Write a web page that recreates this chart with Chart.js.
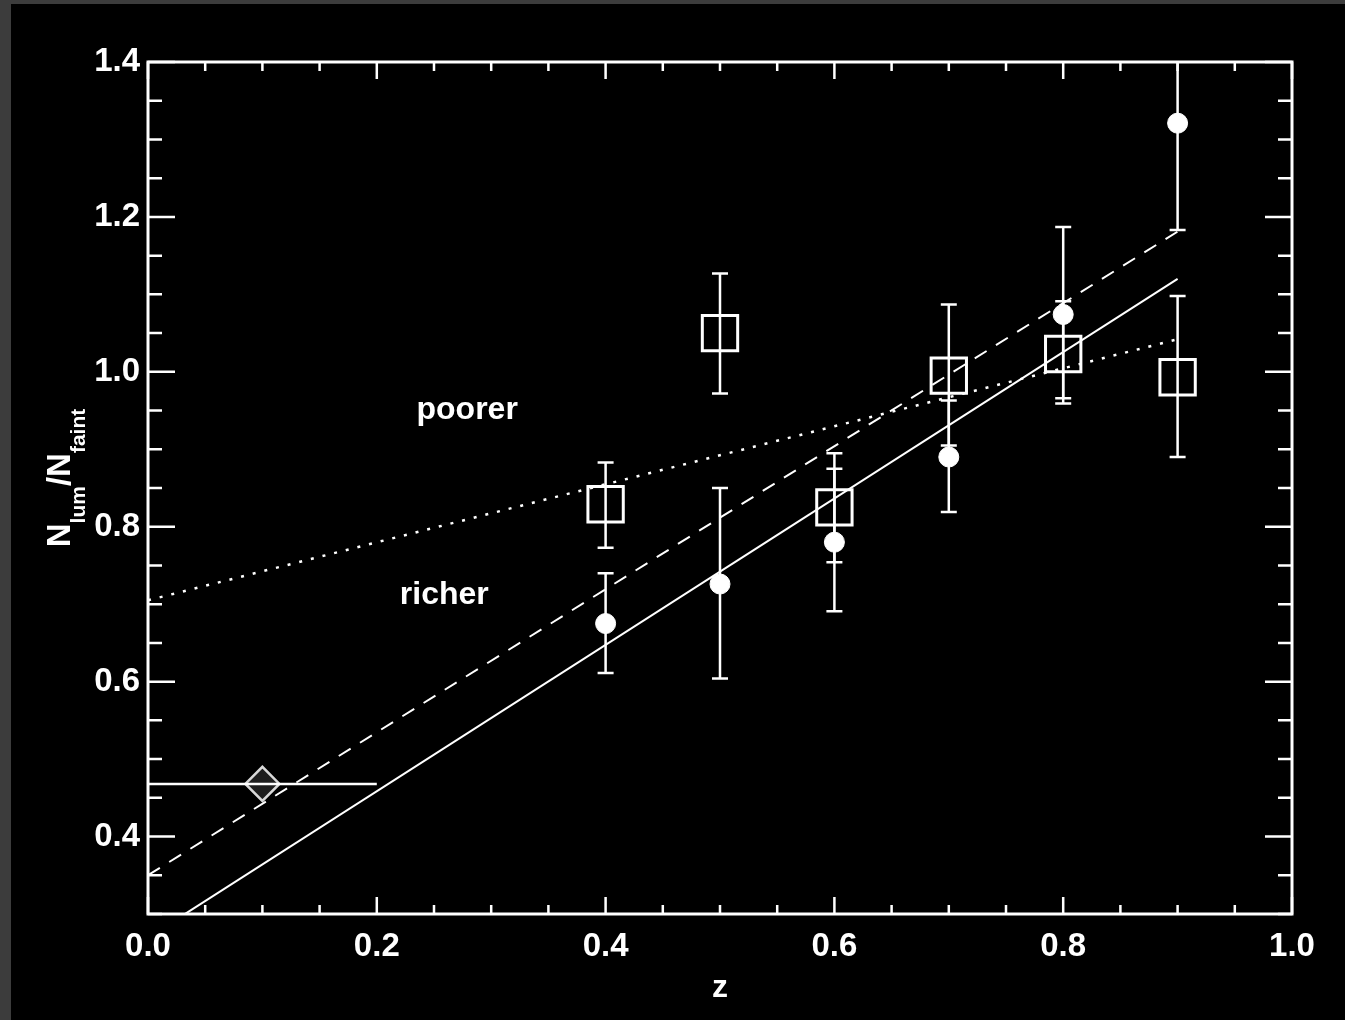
<!DOCTYPE html>
<html>
<head>
<meta charset="utf-8">
<script src="https://cdn.jsdelivr.net/npm/chart.js@4.4.0/dist/chart.umd.min.js"></script>
<style>
  html,body{margin:0;padding:0;background:#3c3c3c;width:1345px;height:1020px;overflow:hidden}
  #wrap{position:absolute;left:11px;top:4px;width:1334px;height:1016px;background:#000}
</style>
</head>
<body>
<div id="wrap"><canvas id="c"></canvas></div>
<script>
// --- data ---
var xTicks = [0.0, 0.2, 0.4, 0.6, 0.8, 1.0];
var yTicks = [0.4, 0.6, 0.8, 1.0, 1.2, 1.4];

var circZ  = [0.4, 0.5, 0.6, 0.7, 0.8, 0.9];
var circY  = [0.675, 0.726, 0.780, 0.890, 1.074, 1.321];
var circLo = [0.611, 0.604, 0.691, 0.819, 0.959, 1.183];
var circHi = [0.740, 0.850, 0.875, 0.963, 1.187, 1.460];

var sqZ  = [0.4, 0.5, 0.6, 0.7, 0.8, 0.9];
var sqY  = [0.829, 1.050, 0.825, 0.995, 1.023, 0.993];
var sqLo = [0.773, 0.972, 0.754, 0.905, 0.966, 0.890];
var sqHi = [0.883, 1.127, 0.895, 1.087, 1.091, 1.098];

var diaZ = [0.1], diaY = [0.468], diaZLo = [0.0], diaZHi = [0.2];

var fitZ = [0.0, 0.9];
var solidY  = [0.2695, 1.120];
var dashedY = [0.350, 1.181];
var dottedY = [0.705, 1.042];

var FONT = '"Liberation Sans", Arial, sans-serif';

function pts(xs, ys){ return xs.map(function(x,i){ return {x:x, y:ys[i]} }) }

var framePlugin = {
  id:'frame',
  afterDatasetsDraw:function(chart){
    var ctx = chart.ctx, a = chart.chartArea, xs = chart.scales.x, ys = chart.scales.y;
    ctx.save();
    ctx.beginPath(); ctx.rect(a.left, a.top, a.right-a.left, a.bottom-a.top); ctx.clip();
    ctx.strokeStyle = '#fff'; ctx.lineWidth = 2.5;
    function vbar(z, lo, hi){
      var px = xs.getPixelForValue(z), p1 = ys.getPixelForValue(lo), p2 = ys.getPixelForValue(hi);
      ctx.beginPath(); ctx.moveTo(px,p1); ctx.lineTo(px,p2);
      ctx.moveTo(px-8,p1); ctx.lineTo(px+8,p1);
      ctx.moveTo(px-8,p2); ctx.lineTo(px+8,p2); ctx.stroke();
    }
    circZ.forEach(function(z,i){ vbar(z, circLo[i], circHi[i]) });
    sqZ.forEach(function(z,i){ vbar(z, sqLo[i], sqHi[i]) });
    diaZ.forEach(function(z,i){
      var py = ys.getPixelForValue(diaY[i]);
      ctx.beginPath(); ctx.moveTo(xs.getPixelForValue(diaZLo[i]), py); ctx.lineTo(xs.getPixelForValue(diaZHi[i]), py); ctx.stroke();
    });
    ctx.restore();

    // frame + inward ticks
    ctx.save();
    ctx.strokeStyle = '#fff'; ctx.lineWidth = 3;
    ctx.strokeRect(a.left, a.top, a.right-a.left, a.bottom-a.top);
    ctx.lineWidth = 2.5;
    ctx.beginPath();
    for(var k=0;k<=20;k++){
      var v = k*0.05, px = xs.getPixelForValue(v), L = (k%4===0) ? 17 : 9;
      ctx.moveTo(px, a.bottom); ctx.lineTo(px, a.bottom-L);
      ctx.moveTo(px, a.top); ctx.lineTo(px, a.top+L);
    }
    for(var j=6;j<=28;j++){
      var w = j*0.05, py = ys.getPixelForValue(w), M = (j%4===0) ? 27 : 14;
      ctx.moveTo(a.left, py); ctx.lineTo(a.left+M, py);
      ctx.moveTo(a.right, py); ctx.lineTo(a.right-M, py);
    }
    ctx.stroke();

    // annotations
    ctx.fillStyle = '#fff';
    ctx.font = 'bold 32px ' + FONT;
    ctx.textAlign = 'center'; ctx.textBaseline = 'middle';
    ctx.fillText('poorer', xs.getPixelForValue(0.279), ys.getPixelForValue(0.950));
    ctx.fillText('richer', xs.getPixelForValue(0.259), ys.getPixelForValue(0.712));

    // x title
    ctx.textBaseline = 'alphabetic';
    ctx.fillText('z', (a.left+a.right)/2, 993);

    // y title with subscripts, rotated
    ctx.translate(59, 474);
    ctx.rotate(-Math.PI/2);
    var big = 'bold 33px ' + FONT, small = 'bold 21px ' + FONT;
    var parts = [['N',big,0],['lum',small,15],['/',big,0],['N',big,0],['faint',small,15]];
    var tot = 0;
    parts.forEach(function(p){ ctx.font = p[1]; p.push(ctx.measureText(p[0]).width); tot += p[3]; });
    var cx = -tot/2;
    ctx.textAlign = 'left';
    parts.forEach(function(p){ ctx.font = p[1]; ctx.fillText(p[0], cx, p[2]); cx += p[3]; });
    ctx.restore();
  }
};

new Chart(document.getElementById('c'), {
  type:'scatter',
  data:{
    datasets:[
      { type:'line', data:pts(fitZ, solidY), borderColor:'#fff', borderWidth:2, pointRadius:0, fill:false },
      { type:'line', data:pts(fitZ, dashedY), borderColor:'#fff', borderWidth:2, borderDash:[14,11], pointRadius:0, fill:false },
      { type:'line', data:pts(fitZ, dottedY), borderColor:'#fff', borderWidth:2.5, borderDash:[3,9], pointRadius:0, fill:false },
      { data:pts(circZ, circY), pointStyle:'circle', pointRadius:10, backgroundColor:'#fff', borderColor:'#fff', borderWidth:1 },
      { data:pts(sqZ, sqY), pointStyle:'rect', pointRadius:25, backgroundColor:'rgba(0,0,0,0)', borderColor:'#fff', borderWidth:3 },
      { data:pts(diaZ, diaY), pointStyle:'rectRot', pointRadius:17, backgroundColor:'#1e1e1e', borderColor:'#d8d8d8', borderWidth:2.5 }
    ]
  },
  options:{
    responsive:true, maintainAspectRatio:false, animation:false,
    layout:{ padding:{ top:58, right:53, left:0, bottom:0 } },
    plugins:{ legend:{display:false}, tooltip:{enabled:false} },
    scales:{
      x:{ type:'linear', min:0, max:1,
          afterBuildTicks:function(s){ s.ticks = xTicks.map(function(v){return {value:v}}) },
          afterFit:function(s){ s.height = 106 },
          grid:{display:false, drawTicks:false}, border:{display:false},
          ticks:{ color:'#fff', padding:13, maxRotation:0, autoSkip:false,
                  font:{family:FONT, size:33, weight:'bold'},
                  callback:function(v){ return Number(v).toFixed(1) } } },
      y:{ type:'linear', min:0.3, max:1.4,
          afterBuildTicks:function(s){ s.ticks = yTicks.map(function(v){return {value:v}}) },
          afterFit:function(s){ s.width = 137 },
          grid:{display:false, drawTicks:false}, border:{display:false},
          ticks:{ color:'#fff', padding:8, autoSkip:false,
                  font:{family:FONT, size:33, weight:'bold'},
                  callback:function(v){ return Number(v).toFixed(1) } } }
    }
  },
  plugins:[framePlugin]
});
</script>
</body>
</html>
